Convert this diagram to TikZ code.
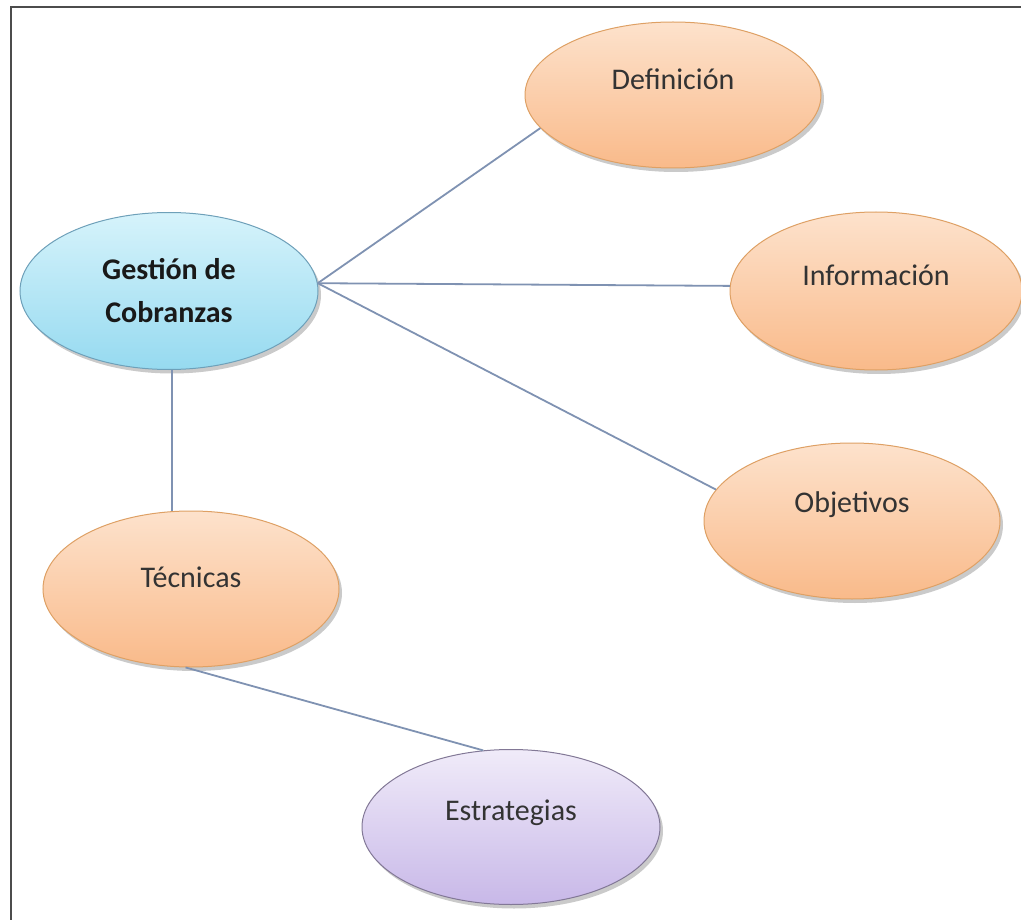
\documentclass[tikz,border=0pt]{standalone}
\usepackage{fontspec}
\setmainfont{Carlito}
\usepackage{xcolor}
\usepackage{tikz}
\usetikzlibrary{positioning,shapes.geometric,shadows}

\definecolor{linkcol}{RGB}{127,146,178}
\definecolor{peachtop}{RGB}{253,226,204}
\definecolor{peachbot}{RGB}{249,186,138}
\definecolor{peachrim}{RGB}{222,160,100}
\definecolor{skytop}{RGB}{214,243,251}
\definecolor{skybot}{RGB}{150,218,240}
\definecolor{skyrim}{RGB}{110,160,185}
\definecolor{liltop}{RGB}{240,235,249}
\definecolor{lilbot}{RGB}{200,184,232}
\definecolor{lilrim}{RGB}{130,120,150}

\tikzset{
  bubble/.style={ellipse, inner sep=0pt, line width=1pt,
    minimum width=296pt, minimum height=156pt,
    drop shadow={shadow xshift=3pt, shadow yshift=-4pt, opacity=0.35, fill=black!60}},
  peach/.style={bubble, draw=peachrim, top color=peachtop, bottom color=peachbot},
  sky/.style={bubble, draw=skyrim, top color=skytop, bottom color=skybot},
  lilac/.style={bubble, draw=lilrim, top color=liltop, bottom color=lilbot},
  txt/.style={yshift=16pt, text=black!80, font=\fontsize{30}{43}\selectfont},
  link/.style={draw=linkcol, line width=1.8pt}
}

\begin{document}
\begin{tikzpicture}[x=1pt,y=1pt,yscale=-1,xscale=1]
\useasboundingbox (0,0) rectangle (1021,920);

%Frame
\draw [black!70, line width=1.5pt] (11,920) -- (11,7) -- (1021,7) ;

%Ellipse [gest]
\node [sky, minimum width=298pt, minimum height=157pt, align=center,
  font=\fontsize{30}{43}\selectfont\bfseries, text=black!90] (gest) at (169,291) {Gestión de\\Cobranzas};
%Ellipse [defi]
\node [peach, minimum height=146pt, label={[txt]center:Definición}] (defi) at (673,95) {};
%Ellipse [info]
\node [peach, minimum width=292pt, minimum height=158pt, label={[txt]center:Información}] (info) at (876,291) {};
%Ellipse [obj]
\node [peach, label={[txt]center:Objetivos}] (obj) at (852,521) {};
%Ellipse [tec]
\node [peach, label={[txt,yshift=-4pt]center:Técnicas}] (tec) at (191,589) {};
%Ellipse [estr]
\node [lilac, minimum width=298pt, minimum height=155pt, label={[txt,yshift=-2pt]center:Estrategias}] (estr) at (511,827) {};

%Links
\path [link] (gest.3) -- (defi.194) ;
\path [link] (gest.3) -- (info.178) ;
\path [link] (gest.3) -- (obj.167) ;
\path [link] (gest.272) -- (gest.272 |- tec.north) ;
\path [link] (tec.266) -- (estr.110) ;
\end{tikzpicture}
\end{document}
